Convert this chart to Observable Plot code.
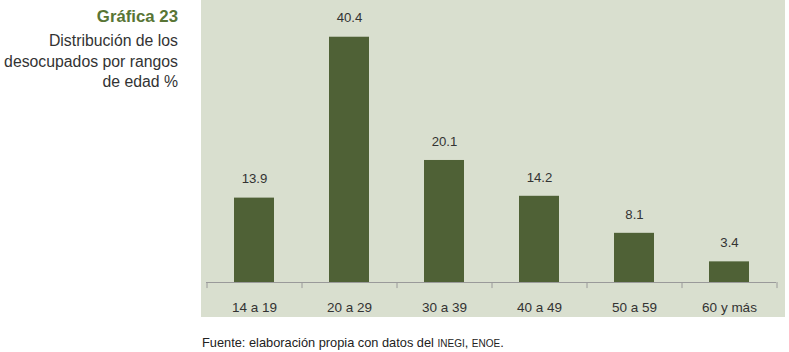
<!DOCTYPE html>
<html>
<head>
<meta charset="utf-8">
<script src="https://cdn.jsdelivr.net/npm/d3@7"></script>
<script src="https://cdn.jsdelivr.net/npm/@observablehq/plot@0.6"></script>
<style>
  html, body { margin: 0; padding: 0; background: #fff; }
  body { width: 789px; height: 352px; position: relative; overflow: hidden; font-family: "Liberation Sans", Arial, sans-serif; }
  #panel { position: absolute; left: 201px; top: 0; width: 584px; height: 317px; background: #d9dfcf; }
  #chart { position: absolute; left: 0; top: 0; }
  #title { position: absolute; right: 611px; top: 6px; text-align: right; color: #333; font-size: 15.8px; line-height: 20.5px; white-space: nowrap; }
  #title b { display: block; color: #587535; font-size: 16.8px; line-height: 22px; margin-bottom: 3px; }
  #caption { position: absolute; left: 202px; top: 335px; font-size: 12.8px; color: #222; white-space: nowrap; }
  #caption span { font-size: 10px; }
</style>
</head>
<body>
<div id="panel"></div>
<div id="chart"></div>
<div id="title"><b>Gráfica 23</b>Distribución de los<br>desocupados por rangos<br>de edad %</div>
<div id="caption">Fuente: elaboración propia con datos del <span>INEGI</span>, <span>ENOE</span>.</div>
<script>
const categories = ["14 a 19", "20 a 29", "30 a 39", "40 a 49", "50 a 59", "60 y más"];
const values = [13.9, 40.4, 20.1, 14.2, 8.1, 3.4];

const data = categories.map((c, i) => ({category: c, value: values[i]}));
const step = (776 - 206) / categories.length;

const plot = Plot.plot({
  width: 789,
  height: 352,
  marginLeft: 206,
  marginRight: 13,
  marginTop: 0,
  marginBottom: 70,
  style: {background: "transparent", fontFamily: "Liberation Sans, Arial, sans-serif"},
  x: {domain: categories, paddingInner: 0.58, paddingOuter: 0.29, axis: null},
  y: {domain: [0, 46.45], axis: null},
  marks: [
    Plot.barY(data, {x: "category", y: "value", fill: "#4f6136"}),
    Plot.ruleY([0], {stroke: "#9a9a9a", strokeWidth: 1}),
    Plot.ruleX(categories, {x: d => d, y1: 0, y2: -1, dx: -step / 2, stroke: "#9a9a9a"}),
    Plot.ruleX(categories.slice(-1), {x: d => d, y1: 0, y2: -1, dx: step / 2, stroke: "#9a9a9a"}),
    Plot.text(data, {x: "category", y: "value", text: d => d.value.toFixed(1), dy: -19, fontSize: 13.2, fill: "#333"}),
    Plot.text(categories, {x: d => d, y: 0, text: d => d, dy: 25, fontSize: 13.5, fill: "#333"})
  ]
});
document.getElementById("chart").appendChild(plot);
</script>
</body>
</html>
